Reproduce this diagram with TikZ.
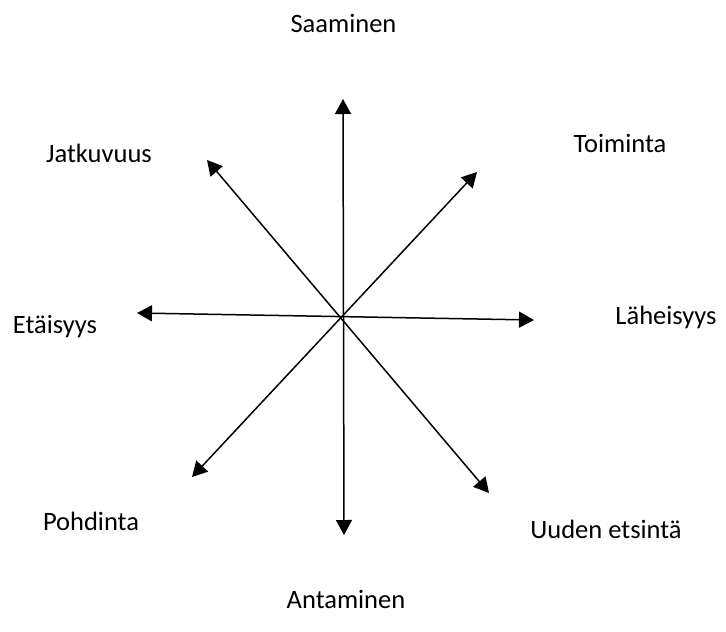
\documentclass[tikz,border=0pt]{standalone}
\usepackage{fontspec}
\setmainfont{Carlito}
\usetikzlibrary{arrows.meta}
\begin{document}
\begin{tikzpicture}[x=1pt,y=-1pt,
  lbl/.style={font=\fontsize{26.5}{30}\selectfont, inner sep=0pt, anchor=base},
  arr/.style={line width=1.5pt, {Triangle[width=16pt,length=15pt]}-{Triangle[width=16pt,length=15pt]}}]
\useasboundingbox (0,0) rectangle (726,632);
% arrow tips
\coordinate (N) at (343,99);
\coordinate (S) at (344,535);
\coordinate (W) at (137,313);
\coordinate (E) at (534,320);
\coordinate (NW) at (207,160);
\coordinate (SE) at (489,493);
\coordinate (NE) at (477,172);
\coordinate (SW) at (192,477);
\draw[arr] (S) -- (N);
\draw[arr] (W) -- (E);
\draw[arr] (NW) -- (SE);
\draw[arr] (SW) -- (NE);
% labels
\node[lbl] (saa) at (343.5,32) {Saaminen};
\node[lbl] (ant) at (346,608) {Antaminen};
\node[lbl] (jat) at (99,162) {Jatkuvuus};
\node[lbl] (toi) at (620,152) {Toiminta};
\node[lbl] (eta) at (55,333) {Etäisyys};
\node[lbl] (lah) at (666,324) {Läheisyys};
\node[lbl] (poh) at (91,530) {Pohdinta};
\node[lbl] (uud) at (606,538) {Uuden etsintä};
\end{tikzpicture}
\end{document}
